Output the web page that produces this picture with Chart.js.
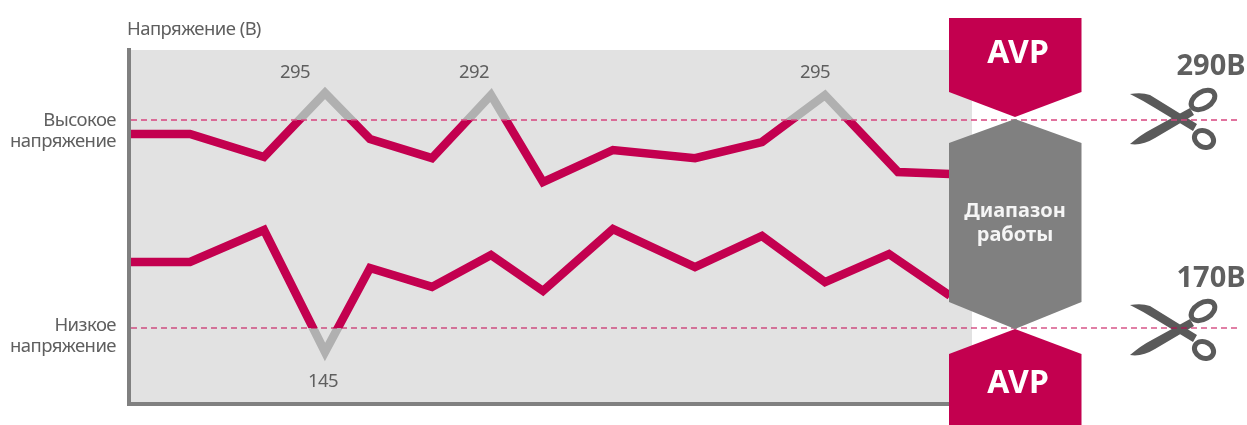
<!DOCTYPE html>
<html lang="ru">
<head>
<meta charset="utf-8">
<style>html,body{margin:0;padding:0;background:#fff}canvas{display:block}</style>
<script src="https://cdn.jsdelivr.net/npm/chart.js@4"></script>
</head>
<body>
<canvas id="c" width="1247" height="425"></canvas>
<script>
const highX = [131,190,264,325,370,432,491,543,613,695,762,825,898,950];
const highV = [282,282,268.7,305.6,279,268,304.4,254.2,272.7,268,277.3,304.4,260,258.8];
const lowX  = [131,190,264,325,370,432,491,543,613,695,762,825,889,950];
const lowV  = [208.1,208.1,226.5,156.2,204.6,193.7,212.1,191.4,227.1,205.2,223.1,196.5,212.7,188.6];
const limitHigh = 290, limitLow = 170;
const limitX = [131,1240];
const tickValues = [165.4,283.6];
const tickLabels = [['Низкое','напряжение'],['Высокое','напряжение']];
const peakText = ['295','292','295','145'];
const peakX = [295,474,815,323];
const peakV = [317.4,317.4,317.4,139.1];
const CRIMSON = '#c3004f', GREY = '#808080', TEXT = '#5f5f5f', OVER = '#b0b0b0';
const FONT = '"Noto Sans"';

function splitColor(ctx, limit, overAbove){
  const chart = ctx.chart, a = chart.chartArea;
  if(!a) return CRIMSON;
  const g = chart.ctx.createLinearGradient(0,a.top,0,a.bottom);
  const s = (chart.scales.y.getPixelForValue(limit)-a.top)/(a.bottom-a.top);
  const top = overAbove?OVER:CRIMSON, bot = overAbove?CRIMSON:OVER;
  g.addColorStop(0,top); g.addColorStop(s,top); g.addColorStop(s,bot); g.addColorStop(1,bot);
  return g;
}
const pts = (xs,vs)=>xs.map((x,i)=>({x,y:vs[i]}));
function poly(ctx,p,fill){ctx.beginPath();p.forEach((q,i)=>i?ctx.lineTo(q[0],q[1]):ctx.moveTo(q[0],q[1]));ctx.closePath();ctx.fillStyle=fill;ctx.fill();}
function txt(ctx,s,x,y,font,color,align,spacing){ctx.letterSpacing=spacing||'0px';ctx.font=font;ctx.fillStyle=color;ctx.textAlign=align||'center';ctx.textBaseline='middle';ctx.fillText(s,x,y);}
function scissors(ctx,dy){
  ctx.save();ctx.translate(0,dy);
  const c='#5a5a5a';ctx.fillStyle=c;
  ctx.beginPath();ctx.moveTo(1130,144);ctx.quadraticCurveTo(1142,134,1150,130);ctx.lineTo(1190,108);ctx.lineTo(1194,115);ctx.lineTo(1155,138);ctx.quadraticCurveTo(1142,146,1130,144);ctx.closePath();ctx.fill();
  ctx.beginPath();ctx.moveTo(1130,94);ctx.quadraticCurveTo(1142,92,1150,95);ctx.lineTo(1197,124);ctx.lineTo(1193,131);ctx.lineTo(1155,108);ctx.quadraticCurveTo(1142,100,1130,94);ctx.closePath();ctx.fill();
  ctx.strokeStyle=c;ctx.lineWidth=5;
  ctx.beginPath();ctx.ellipse(1203,100,13,8,-0.55,0,7);ctx.stroke();
  ctx.beginPath();ctx.ellipse(1204,139,10,8,0.5,0,7);ctx.stroke();
  ctx.restore();
}
const decor = {
  id:'decor',
  beforeDraw(chart){
    const {ctx,chartArea:a}=chart;
    ctx.letterSpacing='-0.55px';
    ctx.fillStyle='#e2e2e2';ctx.fillRect(a.left+2,a.top,a.right-a.left-2,a.bottom-a.top-2);
    scissors(ctx,0);scissors(ctx,211);
  },
  afterDatasetsDraw(chart){
    const {ctx,scales:{x,y}}=chart;
    ctx.save();
    poly(ctx,[[949,18],[1081.5,18],[1081.5,92],[1015,117],[949,92]],CRIMSON);
    poly(ctx,[[1015,119],[1081.5,143],[1081.5,302],[1015,329],[949,302],[949,143]],GREY);
    poly(ctx,[[1015,329],[1081.5,354],[1081.5,425],[949,425],[949,354]],CRIMSON);
    txt(ctx,'AVP',1018,54,'bold 32px '+FONT,'#fff');
    txt(ctx,'AVP',1018,384,'bold 32px '+FONT,'#fff');
    txt(ctx,'Диапазон',1015,211,'bold 20px '+FONT,'#f5f5f5');
    txt(ctx,'работы',1015,235,'bold 20px '+FONT,'#f5f5f5');
    txt(ctx,'290В',1211,67,'bold 29px '+FONT,TEXT);
    txt(ctx,'170В',1211,279,'bold 29px '+FONT,TEXT);
    txt(ctx,'Напряжение (В)',127,30,'18.5px '+FONT,TEXT,'left','-0.55px');
    peakText.forEach((t,i)=>txt(ctx,t,x.getPixelForValue(peakX[i]),y.getPixelForValue(peakV[i]),'18.5px '+FONT,TEXT,'center','-0.55px'));
    ctx.restore();
  }
};
new Chart(document.getElementById('c'),{
  type:'line',
  plugins:[decor],
  data:{datasets:[
    {data:pts(limitX,[limitHigh,limitHigh]),borderColor:'#d8447f',borderWidth:1.5,borderDash:[6,4],pointRadius:0,clip:false,order:1},
    {data:pts(limitX,[limitLow,limitLow]),borderColor:CRIMSON,borderWidth:1.2,borderDash:[6,4],pointRadius:0,clip:false,order:1},
    {data:pts(highX,highV),borderColor:c=>splitColor(c,limitHigh,true),borderWidth:8.5,borderJoinStyle:'miter',tension:0,pointRadius:0,order:2},
    {data:pts(lowX,lowV),borderColor:c=>splitColor(c,limitLow,false),borderWidth:8.5,borderJoinStyle:'miter',tension:0,pointRadius:0,order:2}
  ]},
  options:{
    responsive:false,animation:false,
    layout:{padding:{left:0,top:50,right:275,bottom:21}},
    plugins:{legend:{display:false},tooltip:{enabled:false},title:{display:false}},
    scales:{
      x:{type:'linear',min:129,max:972,
        grid:{display:false,drawTicks:false},ticks:{display:false},
        border:{display:true,color:GREY,width:4},
        afterFit(s){s.height=0;s.paddingLeft=0;s.paddingRight=0;}},
      y:{type:'linear',min:126.15,max:330.4,
        grid:{display:false,drawTicks:false},
        border:{display:true,color:GREY,width:4},
        afterBuildTicks(s){s.ticks=tickValues.map(v=>({value:v}));},
        afterFit(s){s.width=129;s.paddingTop=0;s.paddingBottom=0;},
        ticks:{autoSkip:false,padding:13,color:TEXT,
          font:{family:'Noto Sans',size:18.5,lineHeight:1.135},
          callback(v,i){return tickLabels[i];}}}
    }
  }
});
</script>
</body>
</html>
